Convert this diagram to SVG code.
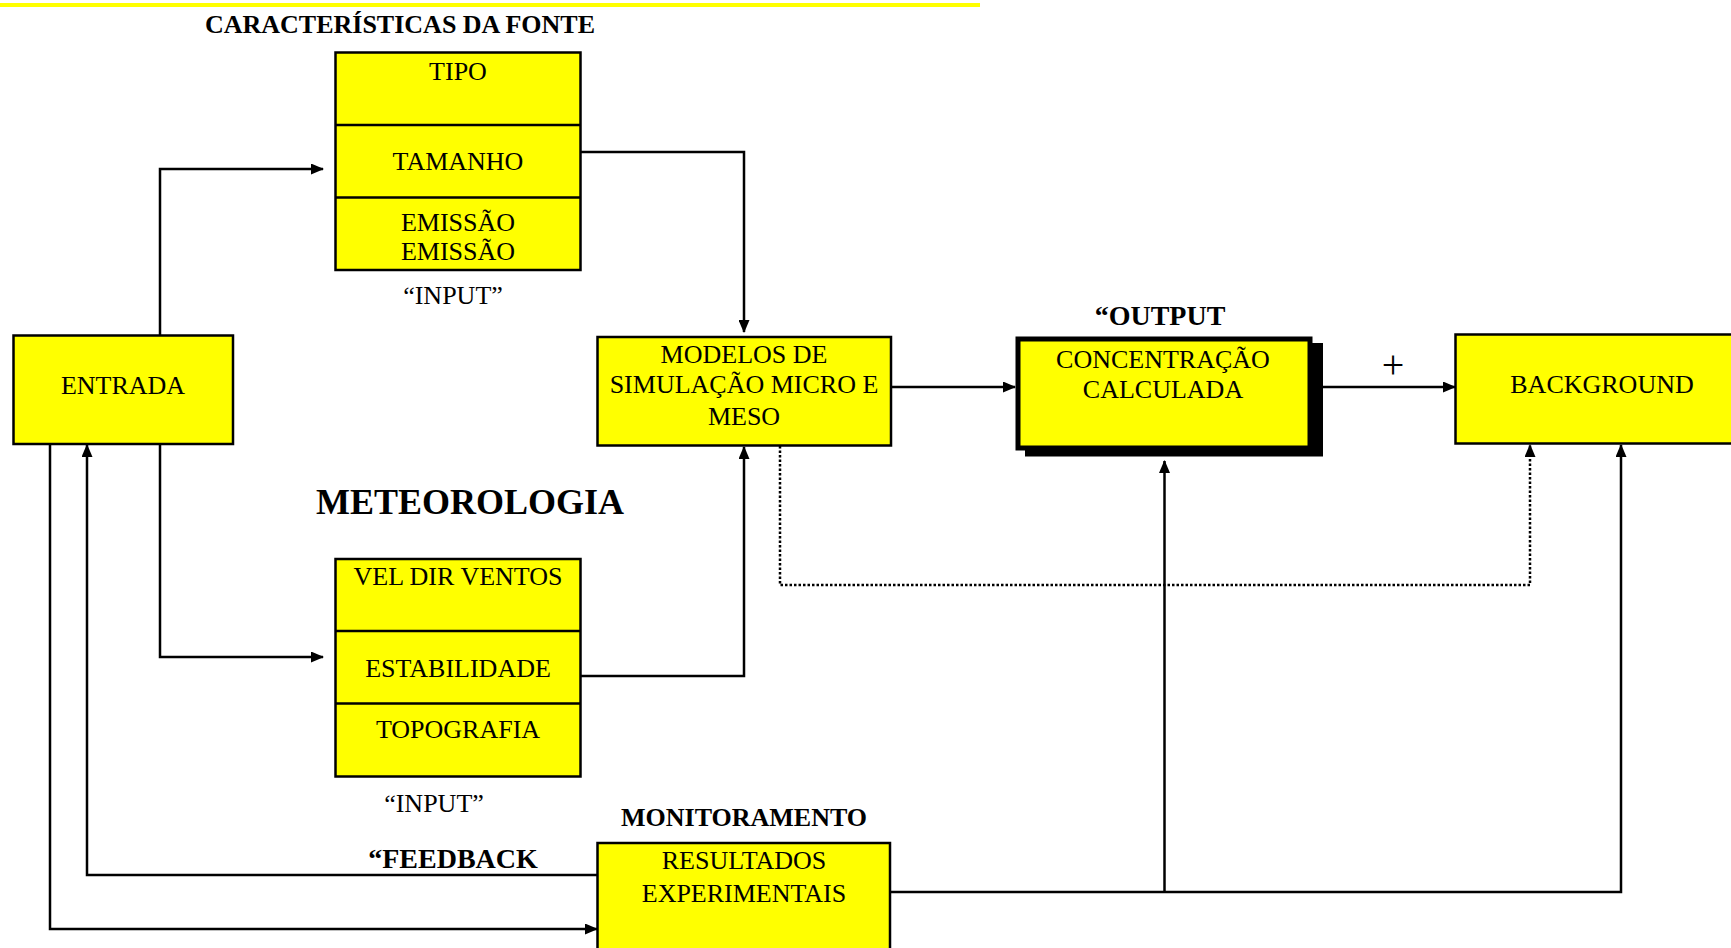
<svg xmlns="http://www.w3.org/2000/svg" width="1731" height="948" viewBox="0 0 1731 948">
<style>
.box{fill:#ffff00;stroke:#000;stroke-width:2.5}
.t{font-family:"Liberation Serif","Times New Roman",serif;font-size:26px;fill:#000;text-anchor:middle}
.b{font-family:"Liberation Serif","Times New Roman",serif;font-weight:bold;fill:#000;text-anchor:middle}
.ln{fill:none;stroke:#000;stroke-width:2.5}
.dot{fill:none;stroke:#000;stroke-width:2.5;stroke-dasharray:2.5 2}
</style>
<defs>
<marker id="ah" markerWidth="13" markerHeight="11" refX="12" refY="5.5" orient="auto" markerUnits="userSpaceOnUse">
<path d="M0,0 L13,5.5 L0,11 Z" fill="#000"/>
</marker>
</defs>
<rect width="1731" height="948" fill="#fff"/>
<line x1="0" y1="5" x2="980" y2="5" stroke="#ffff00" stroke-width="4"/>

<g id="titles">
<text class="b" x="400" y="33" font-size="26">CARACTERÍSTICAS DA FONTE</text>
<text class="t" x="453" y="304">“INPUT”</text>
<text class="b" x="470" y="514" font-size="36">METEOROLOGIA</text>
<text class="t" x="434" y="812">“INPUT”</text>
<text class="b" x="744" y="826" font-size="26">MONITORAMENTO</text>
<text class="b" x="453" y="868" font-size="28">“FEEDBACK</text>
<text class="b" x="1160" y="325" font-size="28">“OUTPUT</text>
<text class="t" x="1393" y="378" style="font-size:40px">+</text>
</g>

<g id="connectors">
<polyline class="ln" points="160,335 160,169 323,169" marker-end="url(#ah)"/>
<polyline class="ln" points="160,444 160,657 323,657" marker-end="url(#ah)"/>
<polyline class="ln" points="581,152 744,152 744,332" marker-end="url(#ah)"/>
<polyline class="ln" points="581,676 744,676 744,447" marker-end="url(#ah)"/>
<line class="ln" x1="891" y1="387" x2="1015" y2="387" marker-end="url(#ah)"/>
<line class="ln" x1="1322" y1="387" x2="1455" y2="387" marker-end="url(#ah)"/>
<polyline class="dot" points="780,446 780,585 1530,585 1530,445" marker-end="url(#ah)"/>
<polyline class="ln" points="597,875 87,875 87,445" marker-end="url(#ah)"/>
<polyline class="ln" points="50,444 50,929 597,929" marker-end="url(#ah)"/>
<polyline class="ln" points="890,892 1621,892 1621,445" marker-end="url(#ah)"/>
<line class="ln" x1="1164.5" y1="892" x2="1164.5" y2="461" marker-end="url(#ah)"/>
</g>

<g id="fonte">
<rect class="box" x="335.5" y="52.5" width="245" height="217.5"/>
<line class="ln" x1="335.5" y1="125" x2="580.5" y2="125"/>
<line class="ln" x1="335.5" y1="197.5" x2="580.5" y2="197.5"/>
<text class="t" x="458" y="80">TIPO</text>
<text class="t" x="458" y="170">TAMANHO</text>
<text class="t" x="458" y="231">EMISSÃO</text>
<text class="t" x="458" y="260">EMISSÃO</text>
</g>

<g id="meteorologia">
<rect class="box" x="335.5" y="559" width="245" height="217.5"/>
<line class="ln" x1="335.5" y1="631" x2="580.5" y2="631"/>
<line class="ln" x1="335.5" y1="703.5" x2="580.5" y2="703.5"/>
<text class="t" x="458" y="585">VEL DIR VENTOS</text>
<text class="t" x="458" y="677">ESTABILIDADE</text>
<text class="t" x="458" y="738">TOPOGRAFIA</text>
</g>

<g id="entrada">
<rect class="box" x="13.5" y="335.5" width="219.5" height="108.5"/>
<text class="t" x="123" y="394">ENTRADA</text>
</g>

<g id="modelos">
<rect class="box" x="597.5" y="337" width="293.5" height="108.5"/>
<text class="t" x="744" y="363">MODELOS DE</text>
<text class="t" x="744" y="393">SIMULAÇÃO MICRO E</text>
<text class="t" x="744" y="425">MESO</text>
</g>

<g id="concentracao">
<rect x="1025" y="343" width="298" height="113.5" fill="#000"/>
<rect x="1018" y="339" width="292" height="109" fill="#ffff00" stroke="#000" stroke-width="5"/>
<text class="t" x="1163" y="368">CONCENTRAÇÃO</text>
<text class="t" x="1163" y="398">CALCULADA</text>
</g>

<g id="background">
<rect class="box" x="1455.5" y="334.5" width="290" height="109"/>
<text class="t" x="1602" y="393">BACKGROUND</text>
</g>

<g id="resultados">
<rect class="box" x="597.5" y="843" width="292.5" height="120"/>
<text class="t" x="744" y="869">RESULTADOS</text>
<text class="t" x="744" y="902">EXPERIMENTAIS</text>
</g>
</svg>
